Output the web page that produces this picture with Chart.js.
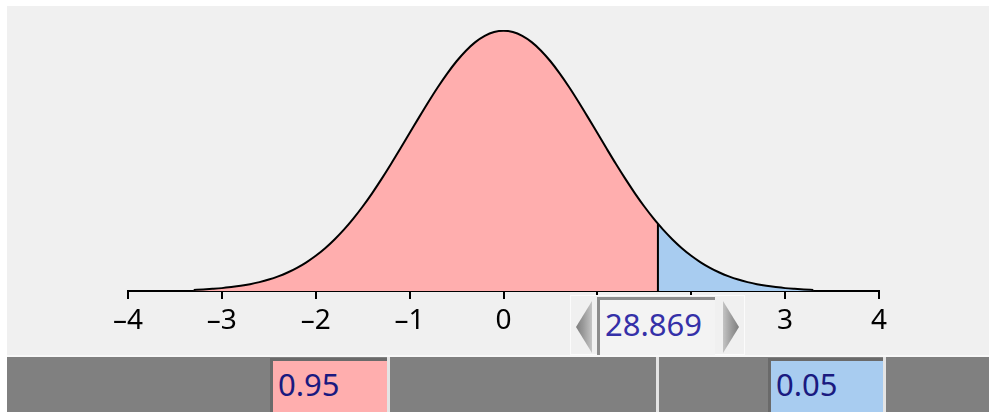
<!DOCTYPE html>
<html>
<head>
<meta charset="utf-8">
<script src="https://cdn.jsdelivr.net/npm/chart.js@4/dist/chart.umd.min.js"></script>
<style>
  html, body { margin: 0; padding: 0; background: #ffffff; width: 989px; height: 412px; overflow: hidden; font-family: "Noto Sans", sans-serif; }
  #panel { position: absolute; left: 7px; top: 6px; width: 982px; height: 349px; background: #f0f0f0; }
  #chartWrap { position: absolute; left: 0; top: 0; width: 989px; height: 357px; }
  #bar { position: absolute; left: 7px; top: 355px; width: 982px; height: 57px; background: #808080; border-top: 2px solid #f8f8f8; box-sizing: border-box; }
  .sep { position: absolute; top: 0; width: 3px; height: 57px; background: #e4e4e4; }
  .box { position: absolute; top: 1px; height: 60px; border-left: 3px solid #6a6a6a; border-top: 3px solid #6a6a6a; box-sizing: border-box; font-size: 31px; color: #1a1a80; line-height: 46px; padding-left: 5px; }
  #slider { position: absolute; left: 570px; top: 295px; width: 175px; height: 60px; background: #f0f0f0; border: 1px solid #fbfbfb; box-sizing: border-box; }
  .arrow { position: absolute; top: 5px; width: 16px; height: 52px; }
  #arrL { left: 5px; clip-path: polygon(0 50%, 100% 0, 100% 100%); background: linear-gradient(to right, #7e7e7e 0%, #9a9a9a 45%, #c4c4c4 100%); }
  #arrR { left: 152px; clip-path: polygon(0 0, 100% 50%, 0 100%); background: linear-gradient(to right, #c4c4c4 0%, #9a9a9a 55%, #7e7e7e 100%); }
  #field { position: absolute; left: 26px; top: 1px; width: 118px; height: 58px; background: #f3f3f3; border-left: 3px solid #8c8c8c; border-top: 3px solid #8c8c8c; box-sizing: border-box; font-size: 31px; color: #3530a8; line-height: 48px; padding-left: 5px; }
</style>
</head>
<body>
<div id="panel"></div>
<div id="chartWrap"><canvas id="c" width="989" height="357"></canvas></div>
<div id="slider">
  <div class="arrow" id="arrL"></div>
  <div id="field"></div>
  <div class="arrow" id="arrR"></div>
</div>
<div id="bar">
  <div class="sep" style="left:380px"></div>
  <div class="sep" style="left:649px"></div>
  <div class="sep" style="left:876px"></div>
  <div class="box" id="leftBox" style="left:263px; width:117px; background:#ffaeae;"></div>
  <div class="box" id="rightBox" style="left:761px; width:115px; background:#a8ccf0;"></div>
</div>
<script>
// ---- data ----
const zValues = [-3.3,-3.2,-3.1,-3.0,-2.9,-2.8,-2.7,-2.6,-2.5,-2.4,-2.3,-2.2,-2.1,-2.0,-1.9,-1.8,-1.7,-1.6,-1.5,-1.4,-1.3,-1.2,-1.1,-1.0,-0.9,-0.8,-0.7,-0.6,-0.5,-0.4,-0.3,-0.2,-0.1,
  0,
  0.1,0.2,0.3,0.4,0.5,0.6,0.7,0.8,0.9,1.0,1.1,1.2,1.3,1.4,1.5,1.6,1.645,1.7,1.8,1.9,2.0,2.1,2.2,2.3,2.4,2.5,2.6,2.7,2.8,2.9,3.0,3.1,3.2,3.3];
const densityValues = [0.0017,0.0024,0.0033,0.0044,0.0060,0.0079,0.0104,0.0136,0.0175,0.0224,0.0283,0.0355,0.0440,0.0540,0.0656,0.0790,0.0940,0.1109,0.1295,0.1497,0.1714,0.1942,0.2179,0.2420,0.2661,0.2897,0.3123,0.3332,0.3521,0.3683,0.3814,0.3910,0.3970,
  0.3989,
  0.3970,0.3910,0.3814,0.3683,0.3521,0.3332,0.3123,0.2897,0.2661,0.2420,0.2179,0.1942,0.1714,0.1497,0.1295,0.1109,0.1031,0.0940,0.0790,0.0656,0.0540,0.0440,0.0355,0.0283,0.0224,0.0175,0.0136,0.0104,0.0079,0.0060,0.0044,0.0033,0.0024,0.0017];
const cutoff = 1.645;
const cutoffDensity = 0.1031;
const tickValues = [-4,-3,-2,-1,0,1,2,3,4];
const tickLabels = ['\u20134','\u20133','\u20132','\u20131','0','1','2','3','4'];
const sliderValue = '28.869';
const leftArea = '0.95';
const rightArea = '0.05';

document.getElementById('field').textContent = sliderValue;
document.getElementById('leftBox').textContent = leftArea;
document.getElementById('rightBox').textContent = rightArea;

const allPts = zValues.map((z, i) => ({ x: z, y: densityValues[i] }));
const leftPts = allPts.filter(p => p.x <= cutoff);
const rightPts = allPts.filter(p => p.x >= cutoff);

new Chart(document.getElementById('c'), {
  type: 'line',
  data: {
    datasets: [
      { data: [{ x: cutoff, y: 0 }, { x: cutoff, y: cutoffDensity }], borderColor: '#000', borderWidth: 2, pointRadius: 0, fill: false, order: 0 },
      { data: allPts, borderColor: '#000', borderWidth: 2, pointRadius: 0, fill: false, cubicInterpolationMode: 'monotone', order: 1 },
      { data: leftPts, borderWidth: 0, borderColor: 'rgba(0,0,0,0)', backgroundColor: '#ffaeae', pointRadius: 0, fill: 'origin', cubicInterpolationMode: 'monotone', order: 2 },
      { data: rightPts, borderWidth: 0, borderColor: 'rgba(0,0,0,0)', backgroundColor: '#a8ccf0', pointRadius: 0, fill: 'origin', cubicInterpolationMode: 'monotone', order: 3 }
    ]
  },
  options: {
    responsive: false,
    animation: false,
    devicePixelRatio: 1,
    layout: { padding: { left: 128, right: 110, top: 30, bottom: 0 } },
    plugins: { legend: { display: false }, tooltip: { enabled: false } },
    scales: {
      x: {
        type: 'linear', min: -4, max: 4,
        afterBuildTicks: (s) => { s.ticks = tickValues.map(v => ({ value: v })); },
        afterFit: (s) => { s.height = 66; },
        grid: { drawOnChartArea: false, drawTicks: true, tickLength: 8, color: '#000', lineWidth: 2 },
        border: { display: true, color: '#000', width: 2 },
        ticks: {
          autoSkip: false, maxRotation: 0, padding: 5, color: '#000',
          font: { family: 'Noto Sans', size: 28 },
          callback: (v) => { const i = tickValues.indexOf(v); return i >= 0 ? tickLabels[i] : ''; }
        }
      },
      y: { type: 'linear', min: 0, max: 0.4, display: false }
    }
  }
});
</script>
</body>
</html>
